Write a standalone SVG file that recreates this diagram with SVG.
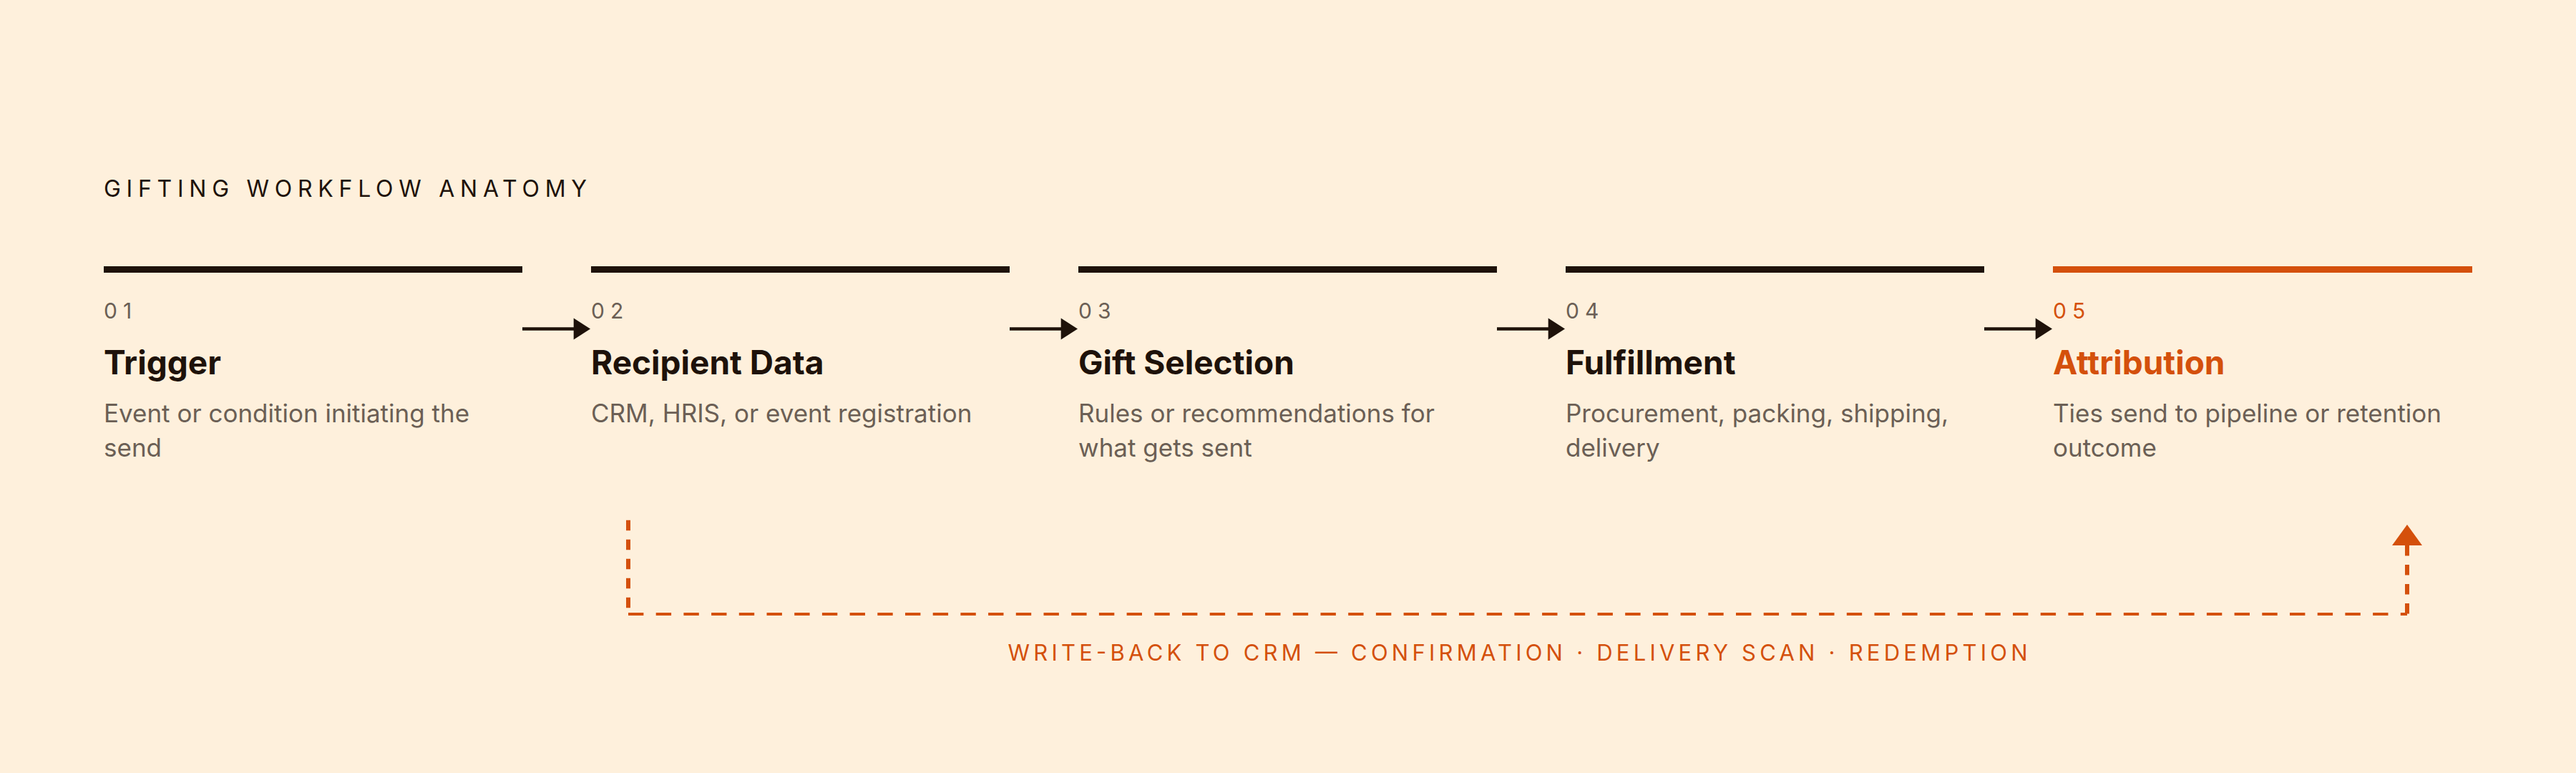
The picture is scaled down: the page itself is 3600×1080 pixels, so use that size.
<svg xmlns="http://www.w3.org/2000/svg" width="3600" height="1080" viewBox="0 0 3600 1080">
<style>
.bg{fill:#FEF0DC}
.bar{fill:#1E120A}
.bar.hi{fill:#D4500C}
.kicker{font-family:Inter,"Liberation Sans",sans-serif;font-size:32px;font-weight:400;fill:#1E120A}
.num{font-family:Inter,"Liberation Sans",sans-serif;font-size:30px;font-weight:400;fill:#6B5F55;letter-spacing:8px}
.head{font-family:Inter,"Liberation Sans",sans-serif;font-size:46px;font-weight:700;fill:#1E120A}
.desc{font-family:Inter,"Liberation Sans",sans-serif;font-size:35px;font-weight:400;fill:#6B5F55}
.hi-t{fill:#D4500C}
.arrow-line{stroke:#1E120A;stroke-width:4.5;fill:none}
.arrow-head{fill:#1E120A}
.fb{stroke:#D4500C;fill:none}
.fb-v{stroke-width:6;stroke-dasharray:14.5 12.5}
.fb-h{stroke-width:4;stroke-dasharray:21.4 17.3}
.fb-head{fill:#D4500C}
.fb-label{font-family:Inter,"Liberation Sans",sans-serif;font-size:31px;font-weight:400;fill:#D4500C}
</style>
<rect class="bg" x="0" y="0" width="3600" height="1080"/>
<text class="kicker" x="145" y="275" textLength="675" lengthAdjust="spacing">GIFTING WORKFLOW ANATOMY</text>

<g id="step-01">
<rect class="bar" x="145" y="372" width="585" height="9"/>
<text class="num" x="145" y="445">01</text>
<text class="head" x="145" y="523">Trigger</text>
<text class="desc" x="145" y="590">Event or condition initiating the</text>
<text class="desc" x="145" y="638">send</text>
</g>
<g id="step-02">
<rect class="bar" x="826" y="372" width="585" height="9"/>
<text class="num" x="826" y="445">02</text>
<text class="head" x="826" y="523">Recipient Data</text>
<text class="desc" x="826" y="590">CRM, HRIS, or event registration</text>
</g>
<g id="step-03">
<rect class="bar" x="1507" y="372" width="585" height="9"/>
<text class="num" x="1507" y="445">03</text>
<text class="head" x="1507" y="523">Gift Selection</text>
<text class="desc" x="1507" y="590">Rules or recommendations for</text>
<text class="desc" x="1507" y="638">what gets sent</text>
</g>
<g id="step-04">
<rect class="bar" x="2188" y="372" width="585" height="9"/>
<text class="num" x="2188" y="445">04</text>
<text class="head" x="2188" y="523">Fulfillment</text>
<text class="desc" x="2188" y="590">Procurement, packing, shipping,</text>
<text class="desc" x="2188" y="638">delivery</text>
</g>
<g id="step-05">
<rect class="bar hi" x="2869" y="372" width="586" height="9"/>
<text class="num hi-t" x="2869" y="445">05</text>
<text class="head hi-t" x="2869" y="523">Attribution</text>
<text class="desc" x="2869" y="590">Ties send to pipeline or retention</text>
<text class="desc" x="2869" y="638">outcome</text>
</g>

<g id="connectors">
<line class="arrow-line" x1="730" y1="459.5" x2="803" y2="459.5"/>
<polygon class="arrow-head" points="801.7,444.5 825,459.5 801.7,474.5"/>
<line class="arrow-line" x1="1411" y1="459.5" x2="1484" y2="459.5"/>
<polygon class="arrow-head" points="1482.7,444.5 1506,459.5 1482.7,474.5"/>
<line class="arrow-line" x1="2092" y1="459.5" x2="2165" y2="459.5"/>
<polygon class="arrow-head" points="2163.7,444.5 2187,459.5 2163.7,474.5"/>
<line class="arrow-line" x1="2773" y1="459.5" x2="2846" y2="459.5"/>
<polygon class="arrow-head" points="2844.7,444.5 2868,459.5 2844.7,474.5"/>

<g id="feedback">
<line class="fb fb-v" x1="878" y1="726.7" x2="878" y2="856"/>
<line class="fb fb-h" x1="878" y1="858" x2="3364" y2="858"/>
<line class="fb fb-v" x1="3364" y1="857.5" x2="3364" y2="762"/>
<polygon class="fb-head" points="3343,762 3385,762 3364,733"/>
</g>
<text class="fb-label" x="2121" y="923" text-anchor="middle" textLength="1425" lengthAdjust="spacing">WRITE-BACK TO CRM — CONFIRMATION · DELIVERY SCAN · REDEMPTION</text>
</g>
</svg>
